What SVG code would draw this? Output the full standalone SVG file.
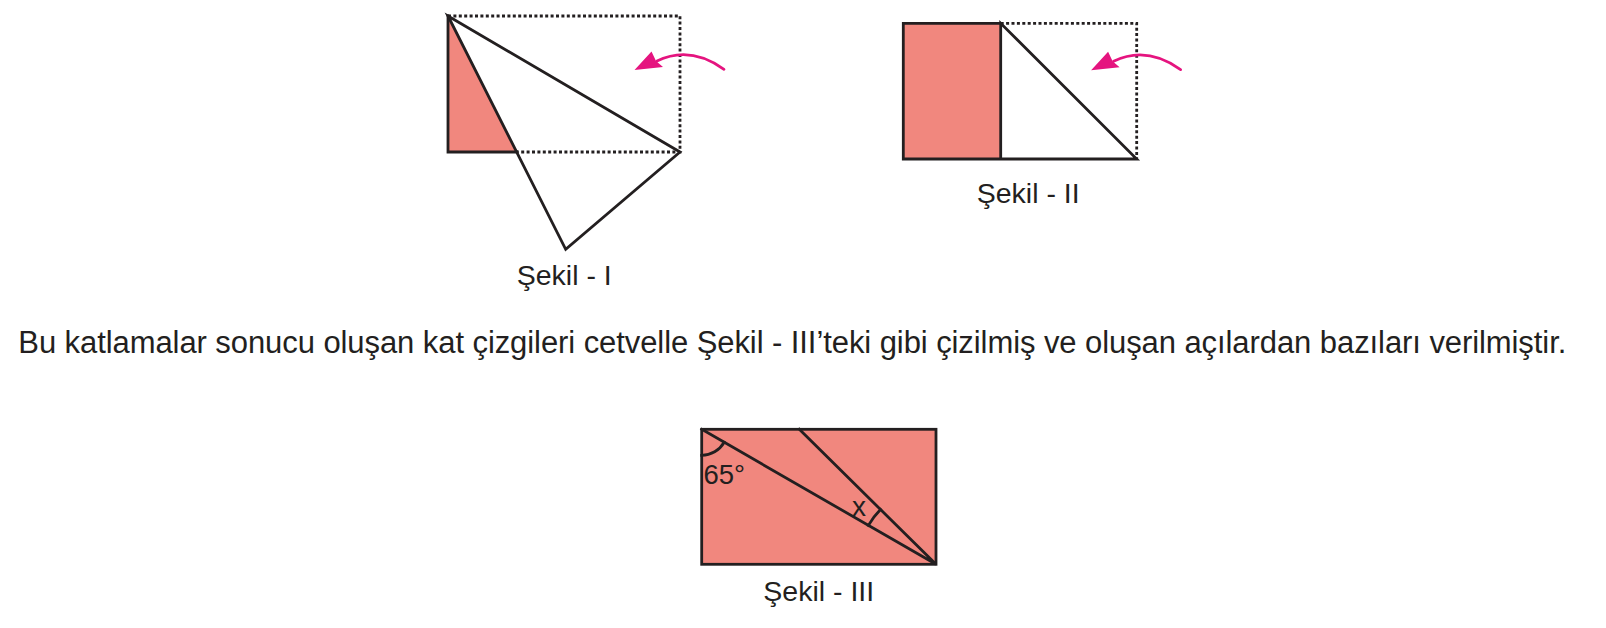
<svg xmlns="http://www.w3.org/2000/svg" width="1606" height="628" viewBox="0 0 1606 628">
<defs>
<style>
.fill{fill:#F1877E;stroke:none}
.solid{fill:none;stroke:#231F20;stroke-width:2.8;stroke-linejoin:miter;stroke-linecap:square}
.dot{fill:none;stroke:#231F20;stroke-width:2.8;stroke-dasharray:3 2.4}
.arr{fill:none;stroke:#E5147F;stroke-width:2.8;stroke-linecap:round}
.head{fill:#E5147F;stroke:none}
.lbl{font-family:"Liberation Sans",Arial,sans-serif;font-size:28.5px;fill:#231F20}
.body{font-family:"Liberation Sans",Arial,sans-serif;font-size:31px;fill:#231F20}
</style>
<g id="foldArrow">
<path class="arr" d="M724,69.3 Q690,45 657,61"/>
<path class="head" d="M634.5,70 L651.5,51.5 L656,61 L663,67 Z"/>
</g>
</defs>

<g id="sekil1">
<path class="fill" d="M448,16 L448,152 L516.6,152 Z"/>
<path class="dot" d="M448,16 H680 V152 H516.6"/>
<path class="solid" d="M448,16 V152 H516.6"/>
<path class="solid" d="M448,16 L680,152 L565.7,249.3 Z"/>
<use href="#foldArrow"/>
<text class="lbl" x="516.7" y="285">Şekil - I</text>
</g>

<g id="sekil2">
<rect class="fill" x="903.3" y="23.3" width="97.4" height="135.7"/>
<path class="dot" d="M1000.7,23.3 H1136.7 V159"/>
<path class="solid" d="M1000.7,23.3 H903.3 V159 H1136.7 L1000.7,23.3 V159"/>
<use href="#foldArrow" transform="translate(456.6,0.3)"/>
<text class="lbl" x="976.7" y="203">Şekil - II</text>
</g>

<text id="question" class="body" x="18.3" y="353.3" textLength="1548" lengthAdjust="spacing">Bu katlamalar sonucu oluşan kat çizgileri cetvelle Şekil - III’teki gibi çizilmiş ve oluşan açılardan bazıları verilmiştir.</text>

<g id="sekil3">
<rect class="fill" x="701.7" y="429.3" width="234.3" height="135"/>
<rect class="solid" x="701.7" y="429.3" width="234.3" height="135"/>
<path class="solid" d="M701.7,429.3 L936,564.3 L799.3,429.3"/>
<path class="solid" d="M701.7,455.3 A26,26 0 0 0 724.2,442.3"/>
<path class="solid" d="M868.4,525.4 A78,78 0 0 1 880.5,509.5"/>
<text class="lbl" style="font-size:27.5px" x="703.5" y="483.5">65°</text>
<text class="lbl" style="font-size:28px" x="859" y="515.5" text-anchor="middle">x</text>
<text class="lbl" x="763.3" y="600.7">Şekil - III</text>
</g>
</svg>
